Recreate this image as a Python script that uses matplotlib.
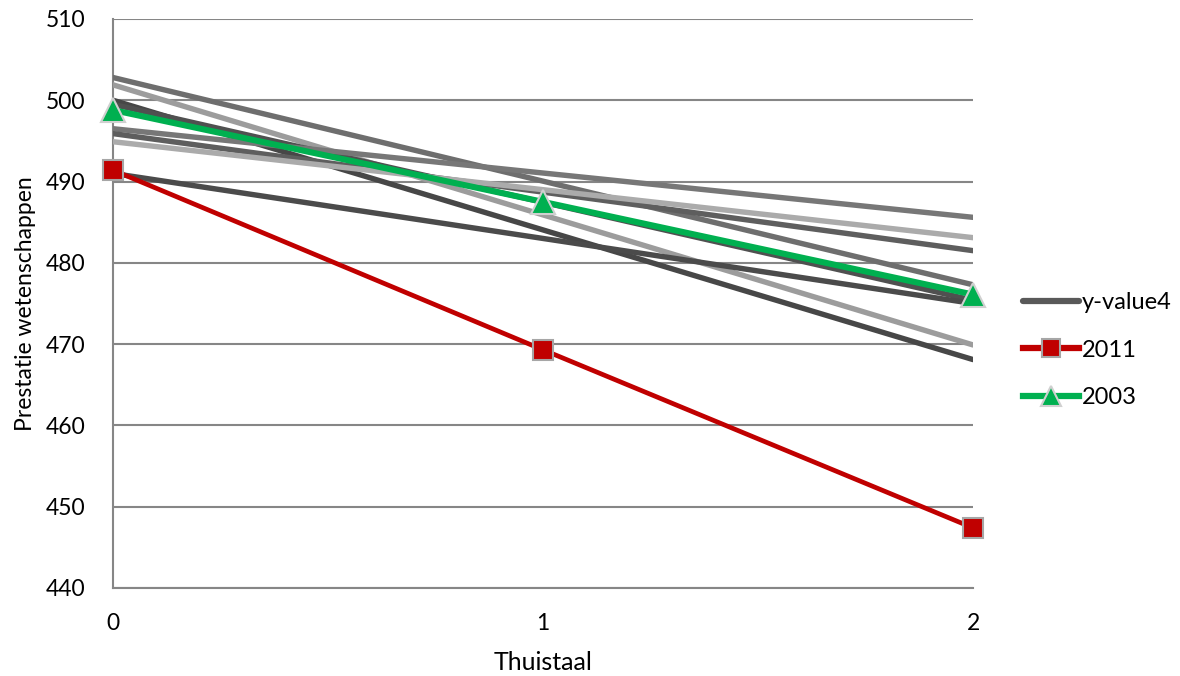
import matplotlib.pyplot as plt
from matplotlib.lines import Line2D

plt.rcParams['font.family'] = ['Lato', 'DejaVu Sans']

# Thuistaal-categorie op de x-as
thuistaal = [0, 1, 2]
x_ends = [0, 2]

# Grijze lijnen (begin- en eindwaarde) met hun grijstint
grey_starts = [502.8, 501.9, 500.0, 499.5, 496.5, 495.9, 494.9, 491.0]
grey_ends = [477.3, 469.9, 468.1, 475.4, 485.6, 481.5, 483.1, 475.0]
grey_colors = ['#6e6e6e', '#9c9c9c', '#474747', '#505050',
               '#777777', '#5e5e5e', '#ababab', '#4b4b4b']

# Hoofdreeksen
score_2011 = [491.4, 469.3, 447.4]
score_2003 = [498.8, 487.5, 476.1]

fig = plt.figure(figsize=(11.8, 6.76), dpi=100)
ax = fig.add_axes([0.0958, 0.1302, 0.7288, 0.8417])

for s, e, c in zip(grey_starts, grey_ends, grey_colors):
    ax.plot(x_ends, [s, e], color=c, lw=3.9, solid_capstyle='round', zorder=3)

ax.plot(thuistaal, score_2011, color='#c00000', lw=3.4, marker='s', ms=15,
        markerfacecolor='#c00000', markeredgecolor='#a6a6a6', markeredgewidth=1.5,
        clip_on=False, zorder=5)
ax.plot(thuistaal, score_2003, color='#00b050', lw=4.4, marker='^', ms=17,
        markerfacecolor='#00b050', markeredgecolor='#d0d0d0', markeredgewidth=1.5,
        clip_on=False, zorder=6)

ax.set_xlim(0, 2)
ax.set_ylim(440, 510)
ax.set_xticks(thuistaal)
ax.set_yticks(range(440, 511, 10))
ax.tick_params(length=0, labelsize=16.5, colors='black')
ax.tick_params(axis='x', pad=18)
ax.tick_params(axis='y', pad=20)

ax.yaxis.grid(True, color='#868686', lw=1.5)
ax.set_axisbelow(True)
for side in ['top', 'right']:
    ax.spines[side].set_visible(False)
for side in ['left', 'bottom']:
    ax.spines[side].set_color('#868686')
    ax.spines[side].set_linewidth(1.5)

ax.set_xlabel('Thuistaal', fontsize=18, labelpad=12)
ax.set_ylabel('Prestatie wetenschappen', fontsize=16.5, labelpad=7)

handles = [
    Line2D([], [], color='#595959', lw=4.5, solid_capstyle='round'),
    Line2D([], [], color='#c00000', lw=4.5, marker='s', ms=13,
           markerfacecolor='#c00000', markeredgecolor='#a6a6a6', markeredgewidth=1.5),
    Line2D([], [], color='#00b050', lw=4.5, marker='^', ms=14,
           markerfacecolor='#00b050', markeredgecolor='#d0d0d0', markeredgewidth=1.5),
]
fig.legend(handles, ['y-value4', '2011', '2003'], loc='center left',
           bbox_to_anchor=(0.849, 0.482), frameon=False, fontsize=17,
           handlelength=2.35, handletextpad=0.12, labelspacing=1.12)

fig.savefig('out.png', dpi=100)
